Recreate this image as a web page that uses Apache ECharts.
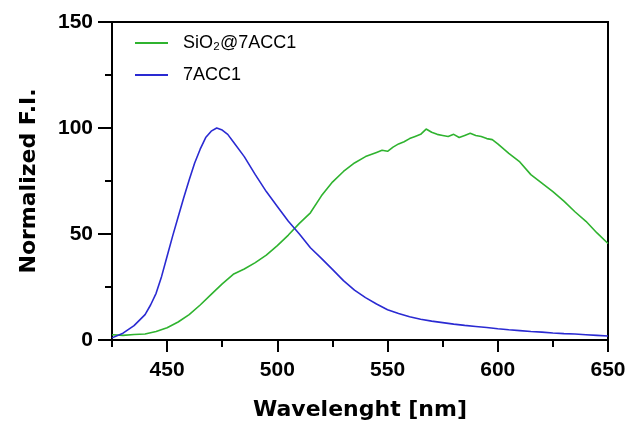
<!DOCTYPE html>
<html>
<head>
<meta charset="utf-8">
<script src="https://cdn.jsdelivr.net/npm/echarts@6/dist/echarts.min.js"></script>
<style>html,body{margin:0;padding:0;background:#fff}#c{width:632px;height:428px}</style>
</head>
<body>
<div id="c"></div>
<script>
const sio2Wavelengths = [425,430,435,440,445,450,455,460,465,470,475,480,485,490,495,500,505,510,515,520,525,530,535,540,542.5,545,547.5,550,552.5,555,557.5,560,562.5,565,567.5,570,572.5,575,577.5,580,582.5,585,587.5,590,592.5,595,597.5,600,605,610,615,620,625,630,635,640,645,650];
const sio2Values = [2.5,2.2,2.6,2.8,4.0,5.8,8.5,12,16.5,21.5,26.5,31,33.5,36.5,40,44.5,49.5,55,60,68,74.5,79.5,83.5,86.5,87.5,88.5,89.5,89,91,92.5,93.5,95,96,97,99.5,98,97,96.5,96,97,95.5,96.5,97.5,96.5,96,95,94.5,92.5,88,84,78,74,70,65.5,60.5,56,50.5,45.5];
const acc1Wavelengths = [425,430,435,440,442.5,445,447.5,450,452.5,455,457.5,460,462.5,465,467.5,470,472.5,475,477.5,480,485,490,495,500,505,510,515,520,525,530,535,540,545,550,555,560,565,570,575,580,585,590,595,600,605,610,615,620,625,630,635,640,645,650];
const acc1Values = [1.0,3.2,6.8,12,16.5,22,30,39.5,49,58,67,75.5,83.5,90,95.5,98.5,100,99,97,93.5,86.5,78,70,63,56,50,43.5,38.5,33.3,28,23.5,20,17,14.3,12.5,11,9.8,8.9,8.2,7.5,6.9,6.4,5.9,5.3,4.8,4.4,4.0,3.7,3.3,3.0,2.8,2.5,2.2,1.9];
const seriesNames = ['SiO\u2082@7ACC1', '7ACC1'];
const xMajorTicks = [450,500,550,600,650];
const xName = 'Wavelenght [nm]';
const yName = 'Normalized F.I.';

const pair = (xs, ys) => xs.map((x, i) => [x, ys[i]]);
const chart = echarts.init(document.getElementById('c'), null, {renderer: 'canvas'});
const tickFont = {fontFamily: 'Liberation Sans', fontWeight: 'bold', fontSize: 21, color: '#000'};
const titleFont = {fontFamily: 'DejaVu Sans', fontWeight: 'bold', fontSize: 22, color: '#000'};
chart.setOption({
  animation: false,
  backgroundColor: '#fff',
  grid: {left: 112, right: 24, top: 22, bottom: 88, show: true, borderColor: '#000', borderWidth: 2, containLabel: false},
  legend: {
    orient: 'vertical', left: 130, top: 29,
    itemWidth: 33, itemHeight: 2, itemGap: 14, icon: 'rect',
    textStyle: {fontFamily: 'Liberation Sans', fontSize: 18, color: '#000', padding: [0, 0, 0, 10]},
    data: seriesNames
  },
  xAxis: [{
    type: 'value', min: 425, max: 650, position: 'bottom',
    name: xName, nameLocation: 'middle', nameGap: 59, nameTextStyle: titleFont,
    axisLine: {show: true, onZero: false, lineStyle: {color: '#000', width: 2}},
    axisTick: {show: true, length: 12, customValues: xMajorTicks, lineStyle: {color: '#000', width: 2}},
    axisLabel: {show: true, margin: 20, customValues: xMajorTicks, ...tickFont},
    splitLine: {show: false}
  }, {
    type: 'value', min: 425, max: 650, interval: 50, position: 'bottom', offset: 0,
    axisLine: {show: true, onZero: false, lineStyle: {color: '#000', width: 2, opacity: 0}},
    axisTick: {show: true, length: 7, lineStyle: {color: '#000', width: 2}},
    axisLabel: {show: false},
    splitLine: {show: false}
  }],
  yAxis: {
    type: 'value', min: 0, max: 150, interval: 50,
    name: yName, nameLocation: 'middle', nameGap: 72, nameTextStyle: titleFont,
    axisLine: {show: true, lineStyle: {color: '#000', width: 2}},
    axisTick: {show: true, length: 14, lineStyle: {color: '#000', width: 2}},
    minorTick: {show: true, splitNumber: 2, length: 7, lineStyle: {color: '#000', width: 2}},
    axisLabel: {margin: 19, ...tickFont},
    splitLine: {show: false}
  },
  series: [
    {name: seriesNames[0], type: 'line', xAxisIndex: 0, data: pair(sio2Wavelengths, sio2Values), showSymbol: false, symbol: 'none', lineStyle: {color: '#2fb32f', width: 1.6}, itemStyle: {color: '#2fb32f'}},
    {name: seriesNames[1], type: 'line', xAxisIndex: 0, data: pair(acc1Wavelengths, acc1Values), showSymbol: false, symbol: 'none', lineStyle: {color: '#2a2ad2', width: 1.6}, itemStyle: {color: '#2a2ad2'}}
  ]
});
</script>
</body>
</html>
